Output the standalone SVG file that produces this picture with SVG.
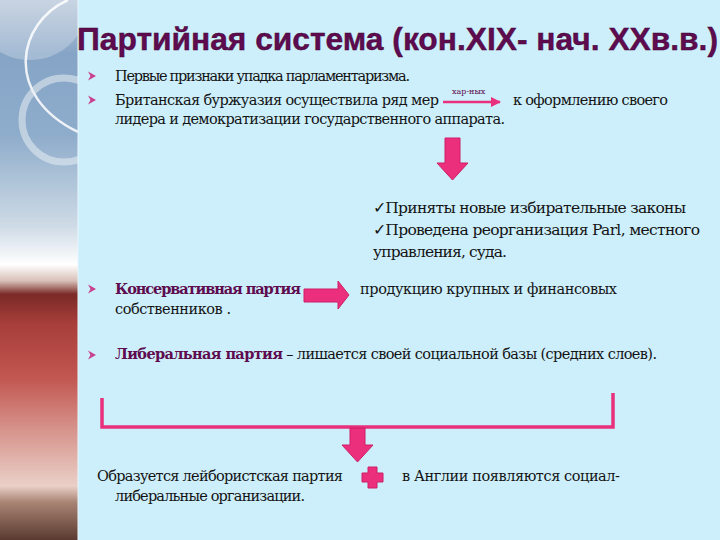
<svg xmlns="http://www.w3.org/2000/svg" width="720" height="540" viewBox="0 0 720 540">
<defs>
<linearGradient id="strip" x1="0" y1="0" x2="0" y2="1">
<stop offset="0" stop-color="#b6c6d8"/>
<stop offset="0.1" stop-color="#86a4c6"/>
<stop offset="0.25" stop-color="#8eaccb"/>
<stop offset="0.42" stop-color="#cfdbe6"/>
<stop offset="0.49" stop-color="#ffffff"/>
<stop offset="0.52" stop-color="#d8c0b8"/>
<stop offset="0.545" stop-color="#7a2a27"/>
<stop offset="0.6" stop-color="#a83e3a"/>
<stop offset="0.7" stop-color="#c25650"/>
<stop offset="0.8" stop-color="#d7968e"/>
<stop offset="0.9" stop-color="#ead0c8"/>
<stop offset="0.93" stop-color="#a88474"/>
<stop offset="1" stop-color="#5a3a30"/>
</linearGradient>
<clipPath id="clipStrip"><rect x="0" y="0" width="78" height="540"/></clipPath>
<path id="bullet" d="M0,-4.5 L8,0 L0,4.5 L2.5,0 Z"/>
<marker id="ah" markerWidth="10" markerHeight="10" refX="9" refY="5" orient="auto" markerUnits="userSpaceOnUse">
<path d="M0,0 L10,5 L0,10 Z" fill="#e8307c"/>
</marker>
<style>
.t{font-family:'DejaVu Serif',serif;font-size:14.5px;fill:#141414}
.c{font-size:15.5px}
.b{font-weight:bold;fill:#5e0b4f}
.title{font-family:'Liberation Sans',Arial,sans-serif;font-weight:bold;font-size:31px;fill:#5e0b4f;stroke:#3a0630;stroke-width:0.4}
.bul{fill:#c8408e}
.pink{fill:#ec2f7c;stroke:#cc1f66;stroke-width:1}
.line{fill:none;stroke:#e8307c;stroke-width:3.5}
</style>
</defs>
<rect x="0" y="0" width="720" height="540" fill="#cdeffb"/>
<g id="strip-deco">
<rect x="0" y="0" width="78" height="540" fill="url(#strip)"/>
<g clip-path="url(#clipStrip)">
<ellipse cx="30" cy="10" rx="55" ry="50" fill="#ffffff" opacity="0.25"/>
<path d="M68,0 C18,22 2,95 78,132" fill="none" stroke="#ffffff" stroke-width="2.5" opacity="0.85"/>
<circle cx="64" cy="120" r="42" fill="none" stroke="#e8eef2" stroke-width="7" opacity="0.55"/>
</g>
<line x1="78" y1="0" x2="78" y2="540" stroke="#e6f6fc" stroke-width="1"/>
</g>
<g id="title">
<text class="title" x="77" y="50" textLength="641" lengthAdjust="spacingAndGlyphs">Партийная система (кон.XIX- нач. XXв.в.)</text>
</g>
<g id="bullets">
<use href="#bullet" class="bul" x="88" y="76"/>
<use href="#bullet" class="bul" x="88" y="100"/>
<use href="#bullet" class="bul" x="88" y="289"/>
<use href="#bullet" class="bul" x="88" y="355"/>
</g>
<g id="intro">
<text class="t" x="115" y="81" textLength="295">Первые признаки упадка парламентаризма.</text>
<text class="t" x="115" y="105" textLength="324">Британская буржуазия осуществила ряд мер</text>
<text class="t" x="513" y="105" textLength="155">к оформлению своего</text>
<text class="t" x="115" y="124" textLength="390">лидера и демократизации государственного аппарата.</text>
</g>
<g id="measures">
<text class="t c" x="373" y="213" textLength="313">✓Приняты новые избирательные законы</text>
<text class="t c" x="373" y="235" textLength="327">✓Проведена реорганизация Parl, местного</text>
<text class="t c" x="373" y="257" textLength="134">управления, суда.</text>
</g>
<g id="conservative">
<text class="t b" x="115" y="294" textLength="186">Консервативная партия</text>
<text class="t" x="360" y="294" textLength="257">продукцию крупных и финансовых</text>
<text class="t" x="115" y="314" textLength="116">собственников .</text>
</g>
<g id="liberal">
<text class="t" x="115" y="359" textLength="542"><tspan class="b">Либеральная партия</tspan> – лишается своей социальной базы (средних слоев).</text>
</g>
<g id="result">
<text class="t" x="97" y="481" textLength="246">Образуется лейбористская партия</text>
<text class="t" x="115" y="501" textLength="190">либеральные организации.</text>
<text class="t" x="402" y="481" textLength="218">в Англии появляются социал-</text>
<path class="pink" d="M368,467 H377 V473 H383 V482 H377 V488 H368 V482 H362 V473 H368 Z"/>
</g>
<g id="connectors">
<line x1="443" y1="102" x2="500" y2="102" stroke="#e8307c" stroke-width="2.5" marker-end="url(#ah)"/>
<text class="t" x="452" y="94" style="font-size:8px;fill:#5e0b4f">хар-ных</text>
<path class="pink" d="M445,138 H460 V163 H468 L452.5,180 L437,163 H445 Z"/>
<path class="pink" d="M304,289 H338 V281 L349,295 L338,309 V302 H304 Z"/>
<path class="line" d="M102,398 V427 H613 V393"/>
<path class="pink" d="M350,428 H365 V445 H373 L357.5,462 L342,445 H350 Z"/>
</g>
</svg>
